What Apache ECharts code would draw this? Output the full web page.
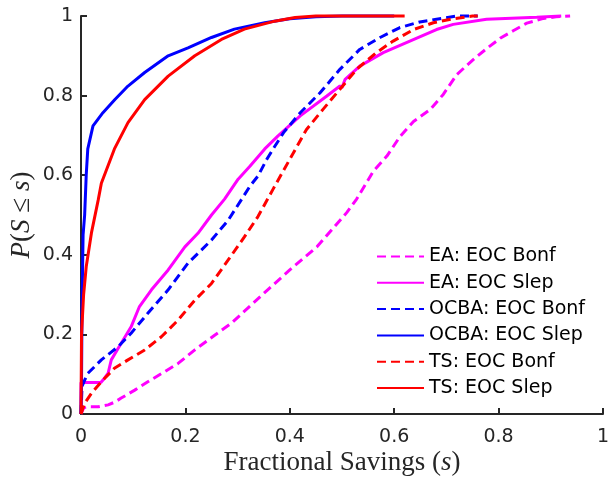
<!DOCTYPE html>
<html>
<head>
<meta charset="utf-8">
<script src="https://cdn.jsdelivr.net/npm/echarts@6/dist/echarts.min.js"></script>
<style>
  html, body { margin: 0; padding: 0; background: #fff; }
  #chartDom { width: 608px; height: 478px; }
</style>
</head>
<body>
<div id="chartDom"></div>
<script>
var eaBonf = [[0,0],[0.005,0.015],[0.01,0.018],[0.033,0.018],[0.052,0.023],[0.065,0.03],[0.077,0.04],[0.09,0.05],[0.103,0.06],[0.128,0.081],[0.16,0.106],[0.186,0.127],[0.218,0.161],[0.256,0.198],[0.288,0.228],[0.326,0.274],[0.356,0.31],[0.4,0.362],[0.452,0.42],[0.509,0.506],[0.528,0.54],[0.56,0.61],[0.586,0.648],[0.611,0.697],[0.637,0.735],[0.669,0.765],[0.694,0.803],[0.72,0.853],[0.752,0.891],[0.777,0.918],[0.803,0.944],[0.828,0.963],[0.854,0.982],[0.886,0.994],[0.91,0.998],[0.937,1]];
var eaSlep = [[0,0],[0,0.079],[0.038,0.079],[0.045,0.09],[0.052,0.103],[0.058,0.136],[0.077,0.178],[0.096,0.219],[0.112,0.27],[0.135,0.312],[0.167,0.362],[0.199,0.42],[0.224,0.454],[0.25,0.5],[0.275,0.54],[0.301,0.59],[0.324,0.623],[0.352,0.666],[0.377,0.698],[0.42,0.749],[0.471,0.799],[0.496,0.824],[0.5,0.82],[0.506,0.841],[0.534,0.874],[0.579,0.908],[0.63,0.937],[0.681,0.966],[0.713,0.979],[0.777,0.992],[0.873,0.997],[0.92,1]];
var ocbaBonf = [[0,0],[0.002,0.07],[0.007,0.085],[0.013,0.102],[0.039,0.136],[0.071,0.169],[0.096,0.203],[0.128,0.253],[0.167,0.312],[0.205,0.379],[0.25,0.437],[0.282,0.487],[0.307,0.538],[0.324,0.573],[0.339,0.598],[0.356,0.64],[0.371,0.672],[0.388,0.707],[0.42,0.757],[0.458,0.807],[0.496,0.866],[0.534,0.916],[0.573,0.946],[0.611,0.971],[0.649,0.985],[0.681,0.992],[0.72,1],[0.76,1]];
var ocbaSlep = [[0,0],[0.001,0.08],[0.002,0.28],[0.004,0.45],[0.007,0.5],[0.01,0.6],[0.013,0.666],[0.023,0.724],[0.042,0.757],[0.065,0.79],[0.09,0.824],[0.122,0.858],[0.167,0.9],[0.205,0.92],[0.25,0.946],[0.294,0.967],[0.352,0.983],[0.4,0.993],[0.45,0.998],[0.5,1],[0.6,1]];
var tsBonf = [[0,0],[0.007,0.027],[0.02,0.052],[0.039,0.081],[0.064,0.115],[0.09,0.136],[0.122,0.161],[0.154,0.194],[0.186,0.236],[0.218,0.286],[0.25,0.328],[0.282,0.387],[0.313,0.445],[0.339,0.496],[0.368,0.565],[0.4,0.64],[0.432,0.715],[0.464,0.766],[0.496,0.816],[0.528,0.866],[0.566,0.908],[0.598,0.937],[0.637,0.966],[0.675,0.983],[0.713,0.993],[0.75,1],[0.76,1]];
var tsSlep = [[0,0],[0.001,0.2],[0.003,0.25],[0.005,0.3],[0.01,0.37],[0.02,0.455],[0.033,0.538],[0.039,0.58],[0.064,0.666],[0.09,0.732],[0.122,0.79],[0.167,0.849],[0.218,0.9],[0.269,0.941],[0.313,0.967],[0.371,0.987],[0.41,0.996],[0.45,1],[0.62,1]];

var seriesNames = ['EA: EOC Bonf', 'EA: EOC Slep', 'OCBA: EOC Bonf', 'OCBA: EOC Slep', 'TS: EOC Bonf', 'TS: EOC Slep'];
var seriesData = [eaBonf, eaSlep, ocbaBonf, ocbaSlep, tsBonf, tsSlep];
var seriesColors = ['#ff00ff', '#ff00ff', '#0000ff', '#0000ff', '#ff0000', '#ff0000'];
var dashed = [true, false, true, false, true, false];

var axisColor = '#262626';
var serif = 'Liberation Serif';

var chartDom = document.getElementById('chartDom');
var myChart = echarts.init(chartDom);

var series = seriesNames.map(function (name, i) {
  return {
    name: name,
    type: 'line',
    data: seriesData[i],
    symbol: 'none',
    clip: false,
    lineStyle: {
      color: seriesColors[i],
      width: 3,
      type: dashed[i] ? [9, 5] : 'solid'
    },
    itemStyle: { color: seriesColors[i] }
  };
});

var axisCommon = {
  type: 'value',
  min: 0,
  max: 1,
  interval: 0.2,
  splitLine: { show: false },
  axisLine: { show: true, lineStyle: { color: axisColor, width: 2 } },
  axisTick: { show: true, inside: true, length: 6, lineStyle: { color: axisColor, width: 2 } },
  nameMoveOverlap: false,
  nameTextStyle: {
    fontFamily: serif,
    fontSize: 27,
    color: axisColor,
    rich: {
      n: { fontFamily: serif, fontSize: 27, color: axisColor },
      i: { fontFamily: serif, fontSize: 27, fontStyle: 'italic', color: axisColor }
    }
  }
};

var option = {
  animation: false,
  grid: { left: 81, right: 5, top: 16, bottom: 64, containLabel: false, outerBoundsMode: 'none' },
  legend: {
    orient: 'vertical',
    left: 376,
    top: 247,
    padding: 0,
    itemWidth: 47,
    itemHeight: 14,
    itemGap: 7.3,
    itemStyle: { opacity: 0 },
    textStyle: { fontFamily: 'DejaVu Sans', fontSize: 19, color: '#000', lineHeight: 19 },
    data: seriesNames
  },
  xAxis: Object.assign({}, axisCommon, {
    name: '{n|Fractional Savings (}{i|s}{n|)}',
    nameLocation: 'middle',
    nameGap: 35,
    axisLabel: { fontFamily: 'DejaVu Sans', fontSize: 19, color: axisColor, margin: 14 }
  }),
  yAxis: Object.assign({}, axisCommon, {
    name: '{i|P}{n|(}{i|S}{n| ≤ }{i|s}{n|)}',
    nameLocation: 'middle',
    nameRotate: 90,
    nameGap: 46,
    axisLabel: { fontFamily: 'DejaVu Sans', fontSize: 19, color: axisColor, margin: 8 }
  }),
  series: series
};

option && myChart.setOption(option);
</script>
</body>
</html>
